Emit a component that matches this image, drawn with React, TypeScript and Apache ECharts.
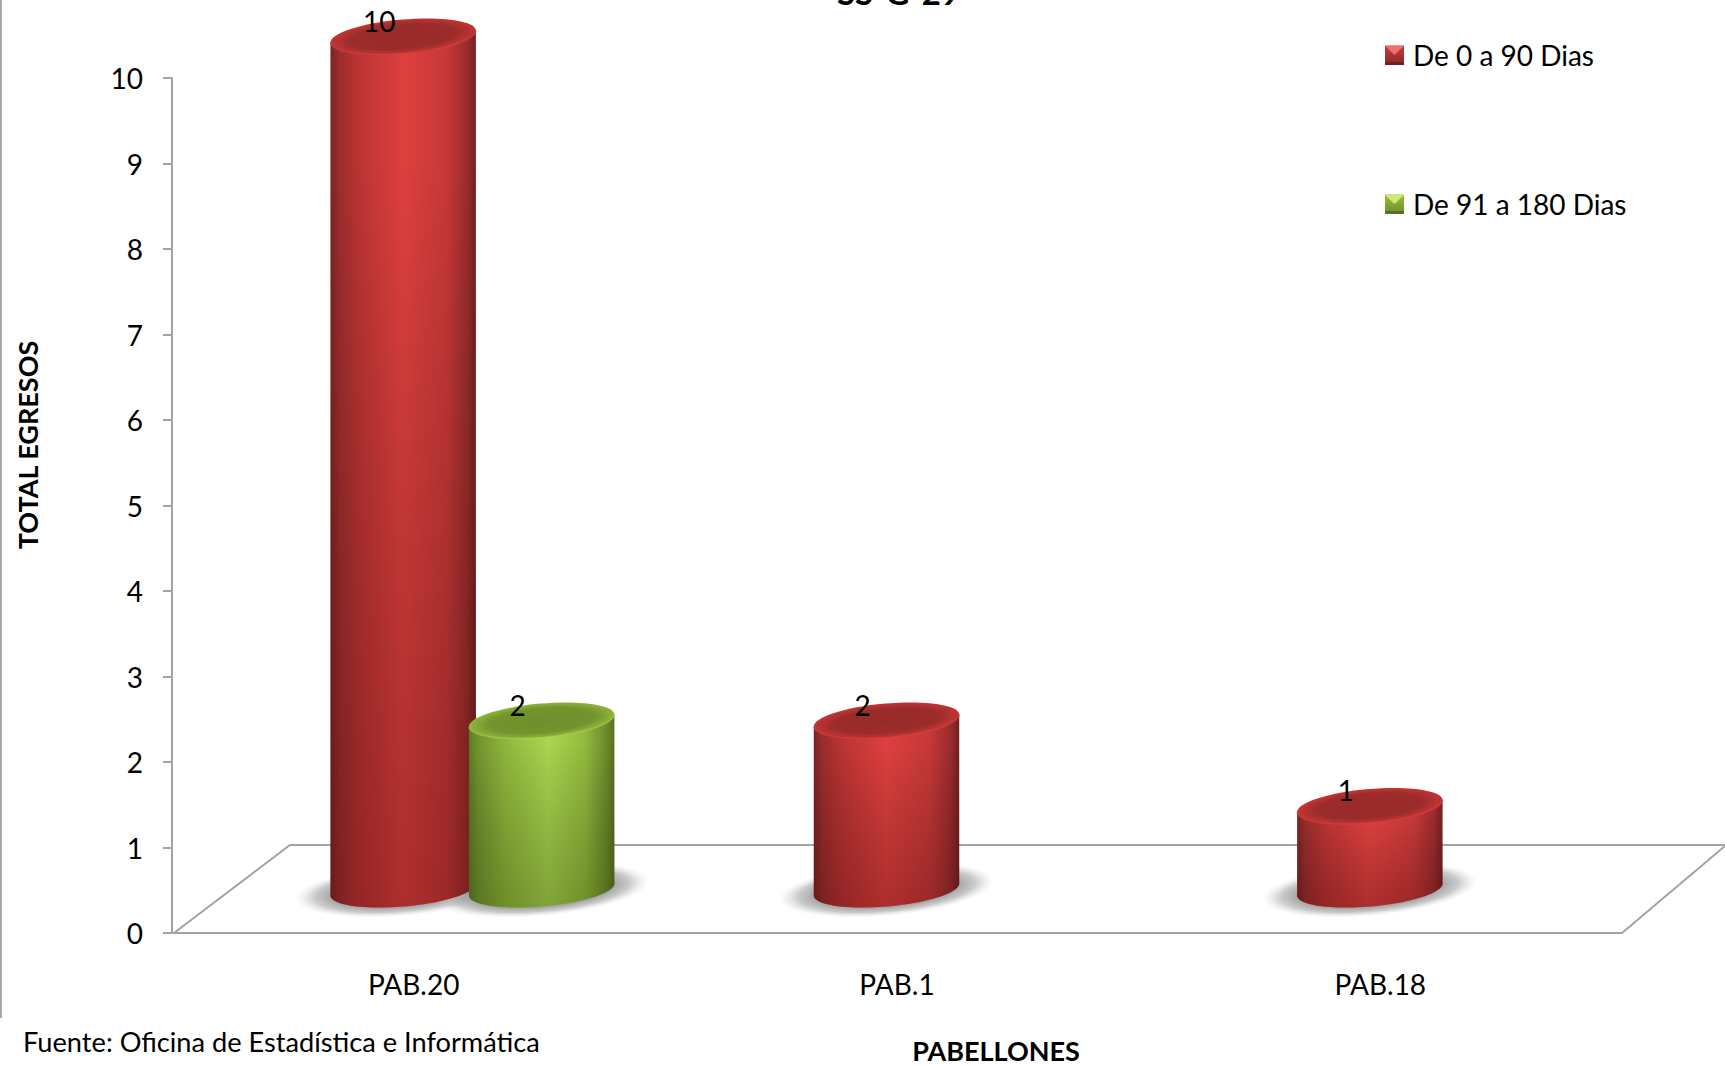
import React, { useEffect, useRef } from "react";
import * as echarts from "echarts";

const categories = ["PAB.20", "PAB.1", "PAB.18"];
const seriesNames = ["De 0 a 90 Dias", "De 91 a 180 Dias"];
const redValues: (number | null)[] = [10, 2, 1];
const greenValues: (number | null)[] = [2, null, null];
const yTicks = { min: 0, max: 10, interval: 1 };

const FONT = "Lato, 'Noto Sans', sans-serif";
const RX = 73;
const RY = 17;
const TILT = 0.087;
const DEPTH = 41.5;
const BASE_DEPTH = 43.5;

const lin = (stops: [number, string][], horizontal = true) =>
  new echarts.graphic.LinearGradient(0, 0, horizontal ? 1 : 0, horizontal ? 0 : 1, stops.map(([offset, color]) => ({ offset, color })));
const rad = (stops: [number, string][]) =>
  new echarts.graphic.RadialGradient(0.5, 0.5, 0.5, stops.map(([offset, color]) => ({ offset, color })));

const palettes = {
  red: {
    body: lin([[0, "#7a2323"], [0.06, "#9a2d2d"], [0.2, "#bb3433"], [0.5, "#de403e"], [0.8, "#c53837"], [0.94, "#9a2c2c"], [1, "#741f1f"]]),
    shade: "rgba(60,5,5,0.3)",
    cap: rad([[0, "#972a29"], [0.72, "#9c2c2b"], [1, "#c23534"]]),
    rim: "#e04443",
  },
  green: {
    body: lin([[0, "#5d7a22"], [0.06, "#729330"], [0.25, "#8fb63b"], [0.55, "#a9d54f"], [0.8, "#92b93d"], [0.94, "#6d8d2c"], [1, "#56711f"]]),
    shade: "rgba(35,50,0,0.3)",
    cap: rad([[0, "#6f8f2d"], [0.72, "#73932e"], [1, "#8fb53b"]]),
    rim: "#b4dc55",
  },
};

const toData = (vals: (number | null)[]) =>
  vals.map((v, i) => (v == null ? null : [i, v])).filter(Boolean);

// Lower half of the tilted ellipse, left to right, around (cx, cy)
function lowerArc(cx: number, cy: number) {
  const pts: number[][] = [];
  const n = 48;
  for (let i = 0; i <= n; i++) {
    const a = Math.PI - (Math.PI * i) / n;
    const lx = RX * Math.cos(a);
    const ly = RY * Math.sin(a);
    pts.push([cx + lx * Math.cos(TILT) + ly * Math.sin(TILT), cy - lx * Math.sin(TILT) + ly * Math.cos(TILT)]);
  }
  return pts;
}

function cylinder(pal: typeof palettes.red, offset: number) {
  return (_: any, api: any) => {
    const v = api.value(1);
    const [px, py] = api.coord([api.value(0), v]);
    const [, y0] = api.coord([api.value(0), 0]);
    const cx = px + offset;
    const top = py - DEPTH;
    const bot = y0 - BASE_DEPTH;
    const topArc = lowerArc(cx, top);
    const botArc = lowerArc(cx, bot);
    const outline = [topArc[0], ...botArc, topArc[topArc.length - 1]];
    return {
      type: "group",
      children: [
        { type: "polygon", shape: { points: outline }, style: { fill: pal.body } },
        { type: "polygon", shape: { points: outline }, style: { fill: lin([[0, "rgba(0,0,0,0)"], [0.15, "rgba(0,0,0,0)"], [1, pal.shade]], false) } },
        { type: "ellipse", x: cx, y: top, rotation: TILT, shape: { cx: 0, cy: 0, rx: RX, ry: RY }, style: { fill: pal.cap } },
        { type: "polyline", shape: { points: topArc }, style: { fill: "none", stroke: pal.rim, lineWidth: 1.5, opacity: 0.45 } },
        { type: "text", x: cx - 24, y: top - 16, z2: 10, style: { text: String(v), fill: "#000", font: `28px ${FONT}`, align: "center", verticalAlign: "middle" } },
      ],
    };
  };
}

function shadow(offset: number) {
  return (_: any, api: any) => {
    const [px, y0] = api.coord([api.value(0), 0]);
    return {
      type: "ellipse",
      x: px + offset,
      y: y0 - 43,
      rotation: TILT,
      shape: { cx: 0, cy: 0, rx: 108, ry: 26 },
      style: { fill: rad([[0, "#808080"], [0.58, "#8e8e8e"], [0.82, "rgba(180,180,180,0.7)"], [1, "rgba(220,220,220,0)"]]) },
    };
  };
}

export default function App() {
  const ref = useRef<HTMLDivElement>(null);
  useEffect(() => {
    document.body.style.margin = "0";
    const chart = echarts.init(ref.current!, null, { renderer: "svg" });
    const markers = (y: number, hi: string, dark: string) => [
      { type: "polygon", z: 100, shape: { points: [[1385, y], [1404, y], [1394.5, y + 9]] }, style: { fill: hi } },
      { type: "rect", z: 100, shape: { x: 1385, y: y + 16, width: 19, height: 3 }, style: { fill: dark } },
    ];
    const axisGray = "#a3a3a3";
    chart.setOption({
      animation: false,
      backgroundColor: "#fff",
      textStyle: { fontFamily: FONT },
      grid: { left: 172, top: 78, width: 1450, height: 855 },
      title: { text: "SS-G-29", left: 832, top: -30, textStyle: { fontFamily: FONT, fontSize: 33, fontWeight: "bold", color: "#000" } },
      legend: {
        orient: "vertical",
        left: 1385,
        top: 41,
        padding: 0,
        itemWidth: 19,
        itemHeight: 19,
        itemGap: 121,
        icon: "rect",
        data: seriesNames,
        textStyle: { fontFamily: FONT, fontSize: 28, color: "#000", padding: [0, 0, 0, 4] },
        selectedMode: false,
      },
      xAxis: {
        type: "category",
        data: categories,
        axisLine: { lineStyle: { color: axisGray, width: 2 } },
        axisTick: { show: false },
        axisLabel: { fontFamily: FONT, fontSize: 28, color: "#000", margin: 37 },
      },
      yAxis: {
        type: "value",
        ...yTicks,
        splitLine: { show: false },
        axisLine: { show: true, lineStyle: { color: axisGray, width: 2 } },
        axisTick: { show: true, length: 9, lineStyle: { color: axisGray, width: 2 } },
        axisLabel: { fontFamily: FONT, fontSize: 28, color: "#000", margin: 29 },
      },
      graphic: [
        { type: "line", shape: { x1: 1, y1: 0, x2: 1, y2: 1018 }, style: { stroke: "#a8a8a8", lineWidth: 2 } },
        { type: "polyline", shape: { points: [[174, 933], [290, 845], [1725, 845]] }, style: { stroke: axisGray, lineWidth: 2, fill: "none" } },
        { type: "line", shape: { x1: 1622, y1: 933, x2: 1725, y2: 846 }, style: { stroke: axisGray, lineWidth: 2 } },
        { type: "text", x: 27, y: 445, rotation: Math.PI / 2, style: { text: "TOTAL EGRESOS", font: `bold 27px ${FONT}`, fill: "#000", align: "center", verticalAlign: "middle" } },
        { type: "text", x: 996, y: 1050, style: { text: "PABELLONES", font: `bold 27px ${FONT}`, fill: "#000", align: "center", verticalAlign: "middle" } },
        { type: "text", x: 23, y: 1041, style: { text: "Fuente: Oficina de Estadística e Informática", font: `27.2px ${FONT}`, fill: "#000", align: "left", verticalAlign: "middle" } },
        ...markers(46, "#ee6f6e", "#6f2020"),
        ...markers(195, "#cfe870", "#56721f"),
      ],
      series: [
        { type: "custom", name: "sombra1", silent: true, z: 1, renderItem: shadow(-10.5), data: toData(redValues), encode: { x: 0, y: 1 } },
        { type: "custom", name: "sombra2", silent: true, z: 1, renderItem: shadow(128), data: toData(greenValues), encode: { x: 0, y: 1 } },
        { type: "custom", name: seriesNames[0], z: 2, renderItem: cylinder(palettes.red, -10.5), itemStyle: { color: lin([[0, "#c43a39"], [1, "#8d2b2b"]], false) }, data: toData(redValues), encode: { x: 0, y: 1 } },
        { type: "custom", name: seriesNames[1], z: 3, renderItem: cylinder(palettes.green, 128), itemStyle: { color: lin([[0, "#97bf42"], [1, "#6f8f2b"]], false) }, data: toData(greenValues), encode: { x: 0, y: 1 } },
      ],
    });
    return () => chart.dispose();
  }, []);
  return <div ref={ref} style={{ position: "absolute", left: 0, top: 0, width: 1725, height: 1065, overflow: "hidden" }} />;
}
